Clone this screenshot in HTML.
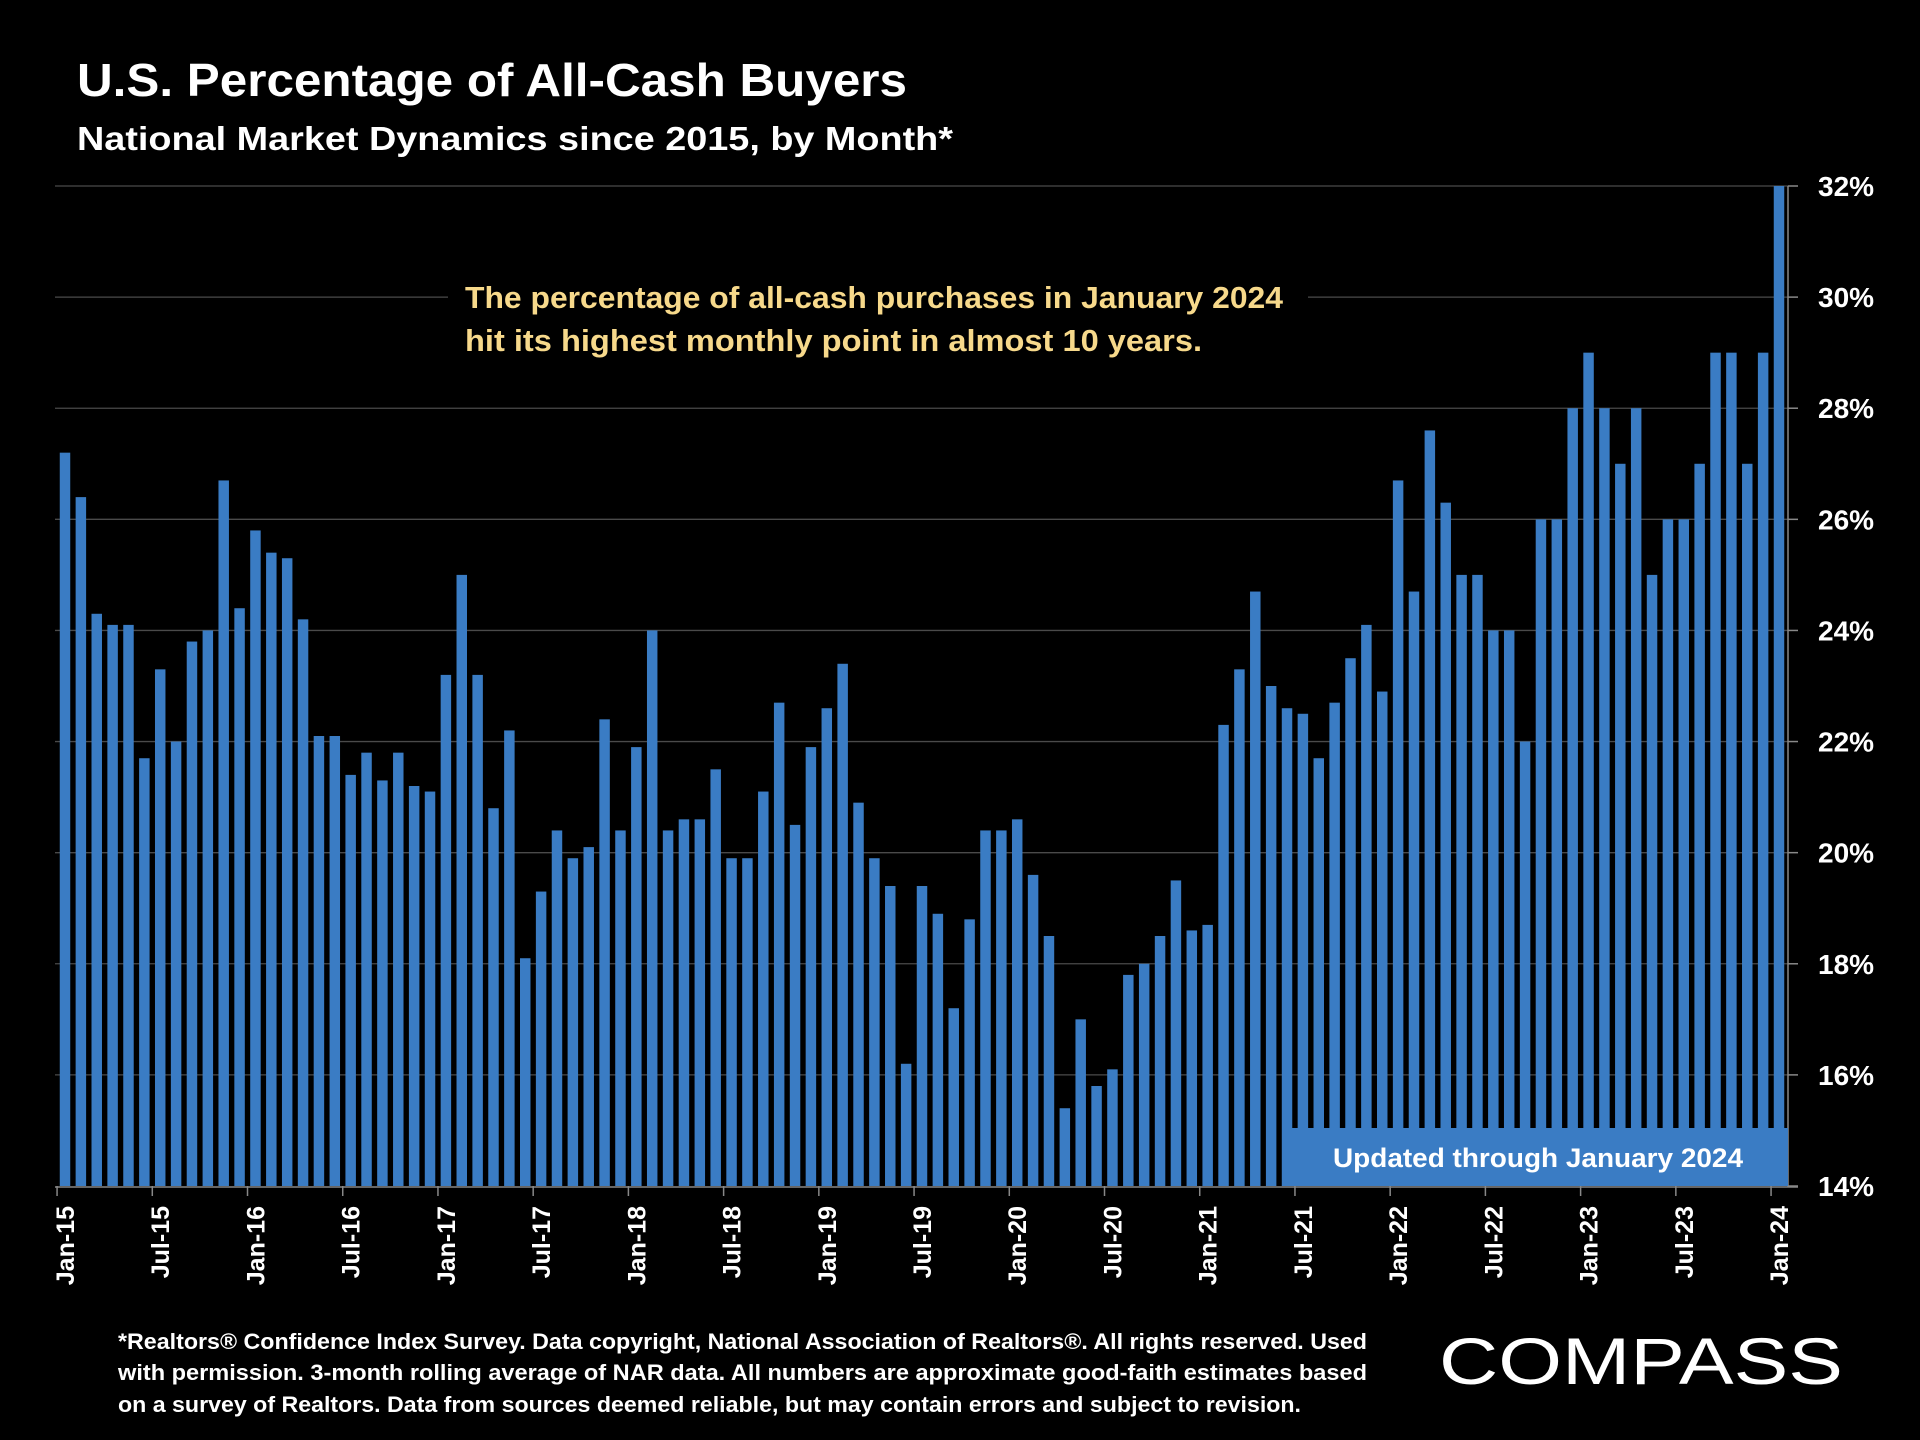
<!DOCTYPE html>
<html><head><meta charset="utf-8"><style>
html,body{margin:0;padding:0;background:#000;}
svg{display:block;font-family:"Liberation Sans",sans-serif;}
</style></head><body>
<svg id="chart" width="1920" height="1440" viewBox="0 0 1920 1440" xmlns="http://www.w3.org/2000/svg">
<rect width="1920" height="1440" fill="#000"/>
<text x="77" y="96" fill="#fff" font-size="46" font-weight="bold" textLength="830" lengthAdjust="spacingAndGlyphs">U.S. Percentage of All-Cash Buyers</text>
<text x="77" y="150" fill="#fff" font-size="33" font-weight="bold" textLength="876" lengthAdjust="spacingAndGlyphs">National Market Dynamics since 2015, by Month*</text>
<g id="grid"></g>
<g id="bars"></g>
<g id="axes"></g>
<rect x="448" y="278" width="860" height="90" fill="#000"/>
<text x="465" y="308" fill="#f7d98b" font-size="31" font-weight="bold" textLength="818" lengthAdjust="spacingAndGlyphs">The percentage of all-cash purchases in January 2024</text>
<text x="465" y="351" fill="#f7d98b" font-size="31" font-weight="bold" textLength="737" lengthAdjust="spacingAndGlyphs">hit its highest monthly point in almost 10 years.</text>
<rect x="1289" y="1128" width="499" height="58" fill="#3a7cc4"/>
<text x="1538" y="1167" fill="#fff" font-size="27" font-weight="bold" text-anchor="middle" textLength="410" lengthAdjust="spacingAndGlyphs">Updated through January 2024</text>
<g fill="#fff" font-size="22" font-weight="bold">
<text x="118" y="1349" textLength="1249" lengthAdjust="spacingAndGlyphs">*Realtors® Confidence Index Survey. Data copyright, National Association of Realtors®. All rights reserved. Used</text>
<text x="118" y="1380" textLength="1249" lengthAdjust="spacingAndGlyphs">with permission. 3-month rolling average of NAR data. All numbers are approximate good-faith estimates based</text>
<text x="118" y="1412" textLength="1183" lengthAdjust="spacingAndGlyphs">on a survey of Realtors. Data from sources deemed reliable, but may contain errors and subject to revision.</text>
</g>
<text x="1439" y="1384" fill="#fff" font-size="66" textLength="404" lengthAdjust="spacingAndGlyphs">COMPASS</text>
</svg>
<script>
const monthLabels = ["Jan-15","Jul-15","Jan-16","Jul-16","Jan-17","Jul-17","Jan-18","Jul-18","Jan-19","Jul-19","Jan-20","Jul-20","Jan-21","Jul-21","Jan-22","Jul-22","Jan-23","Jul-23","Jan-24"];
const yTicks = [14,16,18,20,22,24,26,28,30,32];
const values = [
27.2,26.4,24.3,24.1,24.1,21.7,23.3,22.0,23.8,24.0,26.7,24.4,
25.8,25.4,25.3,24.2,22.1,22.1,21.4,21.8,21.3,21.8,21.2,21.1,
23.2,25.0,23.2,20.8,22.2,18.1,19.3,20.4,19.9,20.1,22.4,20.4,
21.9,24.0,20.4,20.6,20.6,21.5,19.9,19.9,21.1,22.7,20.5,21.9,
22.6,23.4,20.9,19.9,19.4,16.2,19.4,18.9,17.2,18.8,20.4,20.4,
20.6,19.6,18.5,15.4,17.0,15.8,16.1,17.8,18.0,18.5,19.5,18.6,
18.7,22.3,23.3,24.7,23.0,22.6,22.5,21.7,22.7,23.5,24.1,22.9,
26.7,24.7,27.6,26.3,25.0,25.0,24.0,24.0,22.0,26.0,26.0,28.0,
29.0,28.0,27.0,28.0,25.0,26.0,26.0,27.0,29.0,29.0,27.0,29.0,
32.0];
const NS="http://www.w3.org/2000/svg";
const x0=65, x1=1779, yBase=1186, yTop=186, vMin=14, vMax=32;
const slot=(x1-x0)/(values.length-1);
function xPos(i){return x0+i*slot;}
function yPos(v){return yBase-(v-vMin)/(vMax-vMin)*(yBase-yTop);}
const grid=document.getElementById('grid'), bars=document.getElementById('bars'), axes=document.getElementById('axes');
function mk(tag,attrs,parent){const e=document.createElementNS(NS,tag);for(const k in attrs)e.setAttribute(k,attrs[k]);parent.appendChild(e);return e;}
yTicks.forEach(t=>{
  const y=yPos(t);
  if(t>vMin){const l=mk('line',{x1:55,x2:1788,y1:y,y2:y,stroke:'#4a4a4a','stroke-width':1.3},grid);
  
  }
  const tk=mk('line',{x1:1788,x2:1798,y1:y,y2:y,stroke:'#888','stroke-width':1.5},axes);
  
  
  const tx=mk('text',{x:1818,y:y+10,fill:'#fff','font-size':28,'font-weight':'bold'},axes);
  tx.textContent=t+'%';
  
  
});
const bw=slot*0.66;
values.forEach((v,i)=>{
  const y=yPos(v);
  const r=mk('rect',{x:xPos(i)-bw/2,y:y,width:bw,height:yBase-y,fill:'#3a7cc4'},bars);
  
  
});
const ax=mk('line',{x1:55,x2:1798,y1:yBase+1,y2:yBase+1,stroke:'#888','stroke-width':1.5},axes);


const ay=mk('line',{x1:1788,x2:1788,y1:yTop,y2:yBase+1,stroke:'#888','stroke-width':1.5},axes);


monthLabels.forEach((m,k)=>{
  const i=k*6, x=xPos(i);
  const tk=mk('line',{x1:x-slot/2,x2:x-slot/2,y1:yBase,y2:yBase+10,stroke:'#888','stroke-width':1.5},axes);
  
  
  const t=mk('text',{x:0,y:0,fill:'#fff','font-size':25,'font-weight':'bold','text-anchor':'end',transform:'translate('+(x+9)+','+(yBase+20)+') rotate(-90)'},axes);
  t.textContent=m;
  
  
});
</script>
</body></html>
